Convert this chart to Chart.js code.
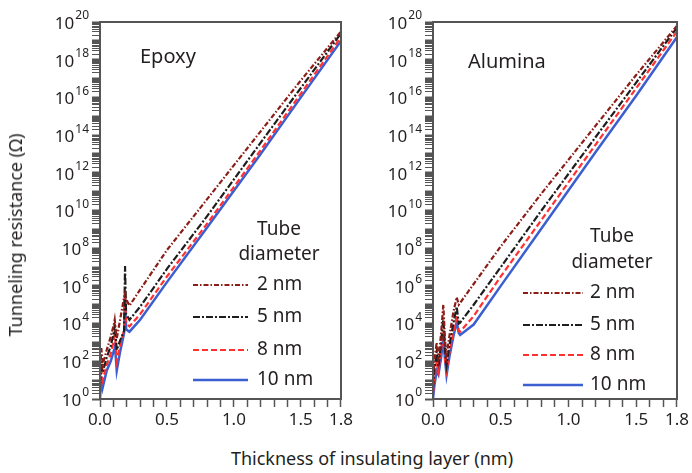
<!DOCTYPE html>
<html>
<head>
<meta charset="utf-8">
<script src="https://cdn.jsdelivr.net/npm/chart.js@4.4.0/dist/chart.umd.min.js"></script>
<style>
  body { margin: 0; background: #fff; width: 692px; height: 473px; position: relative; overflow: hidden;
         font-family: "Noto Sans", sans-serif; color: #231f20; }
  canvas { position: absolute; top: 0; }
  #c1 { left: 0; }
  #c2 { left: 356px; }
  #ytitle { position: absolute; left: 15px; top: 235px; transform: translate(-50%, -50%) rotate(-90deg);
            white-space: nowrap; font-size: 18px; }
  #xtitle { position: absolute; left: 372px; top: 458px; transform: translate(-50%, -50%);
            white-space: nowrap; font-size: 18px; }
</style>
</head>
<body>
<canvas id="c1" width="356" height="440"></canvas>
<canvas id="c2" width="336" height="440"></canvas>
<div id="ytitle">Tunneling resistance (Ω)</div>
<div id="xtitle">Thickness of insulating layer (nm)</div>
<script>
// values are log10 of the resistance (Ohm)
var X_EPOXY = [0.0, 0.01, 0.02, 0.05, 0.08, 0.105, 0.11, 0.125, 0.15, 0.18, 0.187, 0.195, 0.22, 0.3, 0.5, 0.8, 1.2, 1.5, 1.8];
var EPOXY_2NM_LOG  = [1.0, 2.7, 1.8, 2.6, 3.3, 4.0, 4.2, 3.2, 4.2, 5.4, 5.6, 5.3, 4.95, 5.8, 7.9, 10.6, 14.2, 16.9, 19.5];
var EPOXY_5NM_LOG  = [0.8, 2.0, 1.4, 2.2, 2.8, 3.6, 4.0, 2.6, 3.1, 3.6, 7.05, 4.5, 4.2, 4.9, 6.9, 9.7, 13.6, 16.5, 19.4];
var EPOXY_8NM_LOG  = [0.4, 1.5, 1.0, 1.8, 2.4, 3.2, 3.6, 2.0, 2.8, 3.7, 5.7, 4.0, 3.85, 4.5, 6.5, 9.3, 13.2, 16.2, 19.2];
var EPOXY_10NM_LOG = [0.0, 1.2, 0.6, 1.5, 2.0, 2.6, 3.0, 1.5, 2.5, 3.5, 5.45, 3.7, 3.57, 4.2, 6.2, 9.1, 13.0, 16.0, 19.0];

var X_ALUMINA = [0.0, 0.01, 0.027, 0.04, 0.06, 0.076, 0.09, 0.1, 0.12, 0.15, 0.175, 0.19, 0.2, 0.3, 0.5, 0.8, 1.2, 1.5, 1.8];
var ALUMINA_2NM_LOG  = [1.0, 2.0, 3.0, 2.1, 3.5, 5.0, 3.0, 2.3, 3.3, 4.6, 5.4, 5.0, 5.1, 6.1, 8.1, 10.9, 14.5, 17.2, 19.8];
var ALUMINA_5NM_LOG  = [0.6, 1.6, 2.5, 1.7, 3.0, 4.3, 2.5, 1.8, 2.8, 4.0, 4.9, 4.0, 4.05, 5.0, 7.0, 10.0, 13.9, 16.8, 19.7];
var ALUMINA_8NM_LOG  = [0.3, 1.0, 2.0, 1.5, 2.6, 3.6, 2.0, 1.5, 2.4, 3.5, 4.4, 3.6, 3.57, 4.4, 6.5, 9.5, 13.5, 16.5, 19.5];
var ALUMINA_10NM_LOG = [0.0, 0.7, 1.5, 1.3, 2.2, 3.2, 2.0, 1.27, 2.2, 3.3, 4.1, 3.5, 3.4, 3.95, 6.0, 9.05, 13.1, 16.1, 19.2];

var DIAMETERS = ['2 nm', '5 nm', '8 nm', '10 nm'];
var X_TICK_LABELS = [0.0, 0.5, 1.0, 1.5, 1.8];
var Y_LABEL_EXPONENTS = [0, 2, 4, 6, 8, 10, 12, 14, 16, 18, 20];

var FONT = '"Noto Sans", sans-serif';
var TEXT = '#231f20';
var AXIS = '#555';
var COLORS = ['#8b1d16', '#1e1e1e', '#ff3030', '#3b5fd0'];
var DASHES = [[5, 2, 1.5, 2], [7, 2, 2, 2], [6, 3], []];

function points(xs, logs) {
  return xs.map(function (x, i) { return { x: x, y: Math.pow(10, logs[i]) }; });
}

function makeDatasets(xs, series) {
  return series.map(function (logs, i) {
    return {
      label: DIAMETERS[i],
      data: points(xs, logs),
      borderColor: COLORS[i],
      borderDash: DASHES[i],
      borderWidth: i === 3 ? 2.5 : 2.2,
      pointRadius: 0,
      tension: 0
    };
  });
}

// box round the plot, 10^n tick labels, panel name and the legend inside the plot area
var panelPlugin = {
  id: 'panel',
  afterDatasetsDraw: function (chart, args, opts) {
    var ctx = chart.ctx, a = chart.chartArea, ys = chart.scales.y;
    ctx.save();
    ctx.strokeStyle = AXIS;
    ctx.lineWidth = 2;
    ctx.setLineDash([]);
    ctx.strokeRect(a.left, a.top, a.right - a.left, a.bottom - a.top);

    ctx.fillStyle = TEXT;
    ctx.textBaseline = 'middle';
    ctx.textAlign = 'right';
    Y_LABEL_EXPONENTS.forEach(function (e) {
      var y = ys.getPixelForValue(Math.pow(10, e));
      var xr = ys.right - 11;
      ctx.font = '12px ' + FONT;
      var w = ctx.measureText(String(e)).width;
      ctx.fillText(String(e), xr, y - 6);
      ctx.font = '17px ' + FONT;
      ctx.fillText('10', xr - w - 1, y + 2);
    });

    ctx.font = '20px ' + FONT;
    ctx.textAlign = 'left';
    ctx.fillText(opts.name, a.left + opts.nameAt[0], a.top + opts.nameAt[1]);

    ctx.font = '19px ' + FONT;
    ctx.textAlign = 'center';
    ctx.fillText('Tube', a.left + opts.titleX, a.top + opts.titleY[0]);
    ctx.fillText('diameter', a.left + opts.titleX, a.top + opts.titleY[1]);

    chart.data.datasets.forEach(function (ds, i) {
      var y = a.top + opts.rowY[i];
      ctx.strokeStyle = ds.borderColor;
      ctx.lineWidth = ds.borderWidth;
      ctx.setLineDash(ds.borderDash);
      ctx.beginPath();
      ctx.moveTo(a.left + opts.lineX[0], y);
      ctx.lineTo(a.left + opts.lineX[1], y);
      ctx.stroke();
      ctx.setLineDash([]);
      ctx.textAlign = 'left';
      ctx.fillText(ds.label, a.left + opts.textX, y);
    });
    ctx.restore();
  }
};

function makeChart(id, xs, series, yWidth, notes) {
  return new Chart(document.getElementById(id), {
    type: 'line',
    data: { datasets: makeDatasets(xs, series) },
    options: {
      responsive: false,
      animation: false,
      devicePixelRatio: 1,
      layout: { padding: { left: 0, right: 15, top: 22, bottom: 0 } },
      plugins: { legend: { display: false }, tooltip: { enabled: false }, panel: notes },
      scales: {
        x: {
          type: 'linear', min: 0, max: 1.8,
          afterBuildTicks: function (s) {
            var t = [];
            for (var i = 0; i <= 18; i++) t.push({ value: i / 10 });
            s.ticks = t;
          },
          afterFit: function (s) { s.height = 41; },
          ticks: {
            autoSkip: false, maxRotation: 0, padding: 3, color: TEXT,
            font: { family: FONT, size: 17 },
            callback: function (v) {
              var hit = X_TICK_LABELS.filter(function (l) { return Math.abs(l - v) < 1e-6; });
              return hit.length ? hit[0].toFixed(1) : '';
            }
          },
          grid: { drawOnChartArea: false, tickLength: 8, tickColor: AXIS, tickWidth: 1.5 },
          border: { display: false }
        },
        y: {
          type: 'logarithmic', min: 1, max: 1e20,
          afterBuildTicks: function (s) {
            var t = [];
            for (var k = 0; k < 20; k++)
              for (var n = 1; n < 10; n++) t.push({ value: n * Math.pow(10, k) });
            t.push({ value: 1e20 });
            s.ticks = t;
          },
          afterFit: function (s) { s.width = yWidth; },
          ticks: { autoSkip: false, padding: 3, callback: function () { return ''; } },
          grid: {
            drawOnChartArea: false, tickLength: 8, tickColor: AXIS,
            tickWidth: function (c) {
              var e = Math.log10(c.tick.value);
              return Math.abs(e - Math.round(e)) < 1e-9 ? 2 : 1;
            }
          },
          border: { display: false }
        }
      }
    },
    plugins: [panelPlugin]
  });
}

makeChart('c1', X_EPOXY, [EPOXY_2NM_LOG, EPOXY_5NM_LOG, EPOXY_8NM_LOG, EPOXY_10NM_LOG], 100, {
  name: 'Epoxy', nameAt: [40, 35],
  titleX: 179, titleY: [208, 233],
  rowY: [263, 295, 328, 358], lineX: [93, 148], textX: 157
});

makeChart('c2', X_ALUMINA, [ALUMINA_2NM_LOG, ALUMINA_5NM_LOG, ALUMINA_8NM_LOG, ALUMINA_10NM_LOG], 77, {
  name: 'Alumina', nameAt: [35, 40],
  titleX: 179, titleY: [215, 241],
  rowY: [271, 303, 333, 363], lineX: [90, 150], textX: 157
});
</script>
</body>
</html>
